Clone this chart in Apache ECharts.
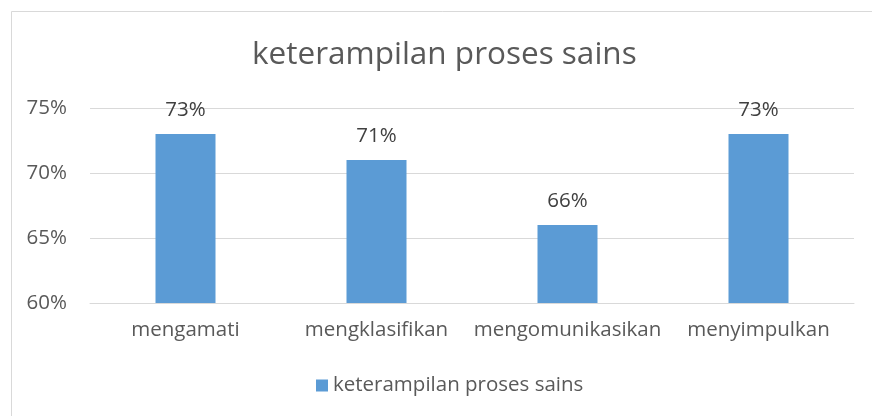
<!DOCTYPE html>
<html>
<head>
<meta charset="utf-8">
<script src="https://cdn.jsdelivr.net/npm/echarts@6/dist/echarts.min.js"></script>
<style>html,body{margin:0;padding:0;background:#fff}#c{width:872px;height:416px}</style>
</head>
<body>
<div id="c"></div>
<script>
var categories = ['mengamati', 'mengklasifikan', 'mengomunikasikan', 'menyimpulkan'];
var seriesName = 'keterampilan proses sains';
var values = [73, 71, 66, 73];
var yTicks = [60, 65, 70, 75];

var FONT = '"Open Sans", sans-serif';
var chart = echarts.init(document.getElementById('c'), null, {renderer: 'canvas'});
chart.setOption({
  animation: false,
  backgroundColor: '#fff',
  textStyle: {fontFamily: FONT},
  graphic: [{
    type: 'rect', left: 9, top: 9, silent: true,
    shape: {x: 0, y: 0, width: 900, height: 500},
    style: {fill: 'none', stroke: '#d9d9d9', lineWidth: 1}
  }],
  title: {
    text: 'keterampilan proses sains',
    left: 247, top: 34,
    textStyle: {fontFamily: FONT, fontSize: 31.5, fontWeight: 'normal', color: '#595959'}
  },
  legend: {
    data: [seriesName],
    bottom: 15, left: 311,
    itemWidth: 12, itemHeight: 12, itemGap: 7,
    icon: 'rect',
    textStyle: {fontFamily: FONT, fontSize: 20.5, color: '#595959'}
  },
  grid: {left: 90, right: 18, top: 108, bottom: 113, containLabel: false},
  xAxis: {
    type: 'category',
    data: categories,
    axisLine: {show: true, lineStyle: {color: '#d9d9d9'}},
    axisTick: {show: false},
    axisLabel: {fontFamily: FONT, fontSize: 20.5, color: '#595959', margin: 17, interval: 0}
  },
  yAxis: {
    type: 'value',
    min: yTicks[0], max: yTicks[yTicks.length - 1], interval: 5,
    axisLine: {show: false},
    axisTick: {show: false},
    splitLine: {lineStyle: {color: '#d9d9d9'}},
    axisLabel: {fontFamily: FONT, fontSize: 20.5, color: '#595959', margin: 23, formatter: '{value}%'}
  },
  series: [{
    name: seriesName,
    type: 'bar',
    data: values,
    barWidth: 60,
    itemStyle: {color: '#5B9BD5'},
    label: {
      show: true, position: 'top', distance: 13,
      formatter: '{c}%',
      fontFamily: FONT, fontSize: 20.5, color: '#404040'
    }
  }]
});
</script>
</body>
</html>
